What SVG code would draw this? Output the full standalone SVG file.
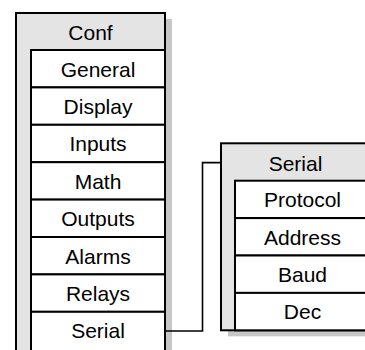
<svg xmlns="http://www.w3.org/2000/svg" width="365" height="350" viewBox="0 0 365 350">
<style>
.shadow{fill:#c6c6c6;stroke:none}
.box{fill:#e4e4e4;stroke:#000;stroke-width:2}
.row{fill:#fff;stroke:#000;stroke-width:2}
text{font-family:"Liberation Sans",Arial,sans-serif;font-size:21px;fill:#000;text-anchor:middle}
.conn{fill:none;stroke:#000;stroke-width:1.6}
</style>
<rect width="365" height="350" fill="#fff"/>
<g id="conf">
<rect class="shadow" x="23" y="19" width="149" height="345"/>
<rect class="box" x="16" y="13" width="149" height="345"/>
<text x="90.5" y="40">Conf</text>
<rect class="row" x="31" y="50" width="134" height="37.4"/>
<text x="98" y="76.5">General</text>
<rect class="row" x="31" y="87.4" width="134" height="37.4"/>
<text x="98" y="113.9">Display</text>
<rect class="row" x="31" y="124.8" width="134" height="37.4"/>
<text x="98" y="151.3">Inputs</text>
<rect class="row" x="31" y="162.2" width="134" height="37.4"/>
<text x="98" y="188.7">Math</text>
<rect class="row" x="31" y="199.6" width="134" height="37.4"/>
<text x="98" y="226.1">Outputs</text>
<rect class="row" x="31" y="237" width="134" height="37.4"/>
<text x="98" y="263.5">Alarms</text>
<rect class="row" x="31" y="274.4" width="134" height="37.4"/>
<text x="98" y="300.9">Relays</text>
<rect class="row" x="31" y="311.8" width="134" height="45"/>
<text x="98" y="337.8">Serial</text>
</g>
<g id="serial">
<rect class="shadow" x="228" y="149.3" width="149" height="187"/>
<rect class="box" x="221" y="143.3" width="149" height="187"/>
<text x="295.5" y="170.5">Serial</text>
<rect class="row" x="235" y="180.7" width="135" height="37.4"/>
<text x="302.5" y="207.2">Protocol</text>
<rect class="row" x="235" y="218.1" width="135" height="37.4"/>
<text x="302.5" y="244.6">Address</text>
<rect class="row" x="235" y="255.5" width="135" height="37.4"/>
<text x="302.5" y="282">Baud</text>
<rect class="row" x="235" y="292.9" width="135" height="37.4"/>
<text x="302.5" y="319.4">Dec</text>
</g>
<g id="connectors">
<polyline class="conn" points="165,331 202.5,331 202.5,162.6 221,162.6"/>
</g>
</svg>
